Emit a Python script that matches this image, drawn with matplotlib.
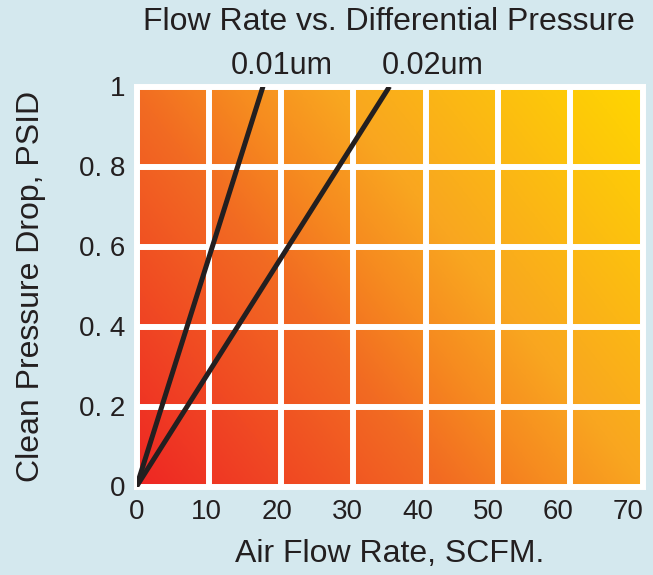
import numpy as np
import matplotlib
matplotlib.use("Agg")
import matplotlib.pyplot as plt
from matplotlib.colors import LinearSegmentedColormap

plt.rcParams['font.family'] = ['Liberation Sans', 'DejaVu Sans']

# data
x_ticks = [0, 10, 20, 30, 40, 50, 60, 70]
y_ticks = [0, 0.2, 0.4, 0.6, 0.8, 1.0]
y_tick_labels = ["0", "0. 2", "0. 4", "0. 6", "0. 8", "1"]
series_names = ["0.01um", "0.02um"]
flow_at_1psid = [18, 36]   # SCFM where each line reaches 1 PSID
x_max = 72
n_cols = 7

bg = "#d4e8ee"
ink = "#231f20"

fig = plt.figure(figsize=(6.53, 5.75), dpi=100, facecolor=bg)
ax = fig.add_axes([136.5 / 653, 1 - 486.5 / 575, 506 / 653, 400 / 575])
ax.set_facecolor(bg)

# diagonal red -> yellow gradient behind the grid
cmap = LinearSegmentedColormap.from_list(
    "heat", [(0.0, "#ee2624"), (0.38, "#f26c22"), (0.5, "#f68b1f"),
             (0.62, "#f9a620"), (1.0, "#ffd600")])
w, h = 506, 400
gx, gy = np.meshgrid(np.linspace(0, w, 400), np.linspace(0, h, 320))
t = (gx * w + gy * h) / (w ** 2 + h ** 2)
ax.imshow(t, cmap=cmap, origin="lower", extent=[0, x_max, 0, 1],
          aspect="auto", vmin=0, vmax=1, zorder=0, interpolation="bilinear")

# white grid, including the outer frame
for k in range(n_cols + 1):
    ax.axvline(k * x_max / n_cols, color="white", lw=4.3, zorder=1, clip_on=False)
for v in y_ticks:
    ax.axhline(v, color="white", lw=4.3, zorder=1, clip_on=False)

# flow lines with their labels above the plot
label_shift = [2.7, 6.2]
for name, q, dx in zip(series_names, flow_at_1psid, label_shift):
    ax.plot([0, q], [0, 1], color=ink, lw=3.6, solid_capstyle="butt", zorder=3)
    ax.text(q + dx, 1.015, name, ha="center", va="bottom", fontsize=22, color=ink)

ax.set_xlim(0, x_max)
ax.set_ylim(0, 1)
ax.set_xticks(x_ticks)
ax.set_yticks(y_ticks)
ax.set_yticklabels(y_tick_labels)
ax.tick_params(length=0, labelsize=20, colors=ink)
ax.tick_params(axis="x", pad=9)
ax.tick_params(axis="y", pad=8)
for s in ax.spines.values():
    s.set_visible(False)

ax.set_xlabel("Air Flow Rate, SCFM.", fontsize=23, color=ink, labelpad=10)
ax.set_ylabel("Clean Pressure Drop, PSID", fontsize=23, color=ink, labelpad=24)
fig.text(389 / 653, 1 - 22 / 575, "Flow Rate vs. Differential Pressure",
         ha="center", va="center", fontsize=23, color=ink)

fig.savefig("out.png", dpi=100, facecolor=bg)
